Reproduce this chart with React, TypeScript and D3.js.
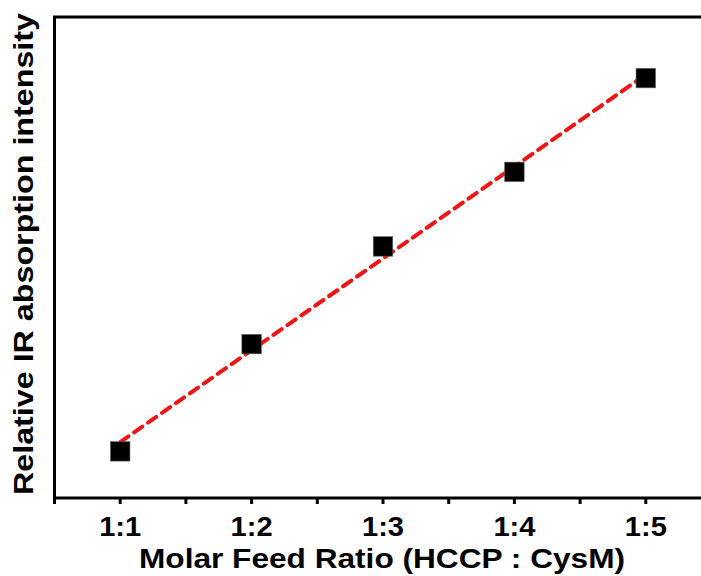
import React from "react";
import * as d3 from "d3";

const categories: string[] = ["1:1", "1:2", "1:3", "1:4", "1:5"];
const xValues: number[] = [1, 2, 3, 4, 5];
const intensity: number[] = [0.097, 0.32, 0.523, 0.678, 0.873];
const minorTicks: number[] = [0.5, 1.5, 2.5, 3.5, 4.5, 5.5];
const xTitle = "Molar Feed Ratio (HCCP : CysM)";
const yTitle = "Relative IR absorption intensity";

const W = 701;
const H = 576;

export default function App() {
  const x = d3.scaleLinear().domain([0.5, 5.5]).range([54.5, 711.5]);
  const y = d3.scaleLinear().domain([0, 1]).range([498, 17]);

  // linear regression fit
  const mx = d3.mean(xValues) as number;
  const my = d3.mean(intensity) as number;
  const sxy = d3.sum(xValues.map((v, i) => (v - mx) * (intensity[i] - my)));
  const sxx = d3.sum(xValues.map((v) => (v - mx) * (v - mx)));
  const slope = sxy / sxx;
  const icpt = my - slope * mx;
  const fitPts: [number, number][] = [1, 5].map((v) => [v, icpt + slope * v]);
  const line = d3
    .line<[number, number]>()
    .x((d) => x(d[0]))
    .y((d) => y(d[1]));

  const x0 = x(0.5);
  const x1 = x(5.5);
  const yb = y(0);
  const yt = y(1);
  const sq = 19.5;
  const font = "'Liberation Sans', Arial, sans-serif";

  return (
    <svg
      width={W}
      height={H}
      style={{ position: "absolute", left: 0, top: 0, background: "#fff" }}
      fontFamily={font}
      fontWeight="bold"
    >
      <rect x={0} y={0} width={W} height={H} fill="#fff" />
      {/* frame */}
      <rect x={x0} y={yt} width={x1 - x0} height={yb - yt} fill="none" stroke="#000" strokeWidth={3} />
      {/* ticks */}
      {minorTicks.map((t) => (
        <line key={"m" + t} x1={x(t)} x2={x(t)} y1={yb} y2={yb + 6} stroke="#000" strokeWidth={3} />
      ))}
      {xValues.map((t) => (
        <line key={"M" + t} x1={x(t)} x2={x(t)} y1={yb} y2={yb + 6} stroke="#000" strokeWidth={3} />
      ))}
      {/* tick labels */}
      {xValues.map((t, i) => (
        <text key={"l" + t} x={x(t)} y={536} textAnchor="middle" fontSize={28} fill="#000"
          textLength={42} lengthAdjust="spacingAndGlyphs">
          {categories[i]}
        </text>
      ))}
      {/* fit line */}
      <path d={line(fitPts) || ""} fill="none" stroke="#f01414" strokeWidth={4} strokeDasharray="10,7" strokeLinecap="round" />
      {/* points */}
      {xValues.map((t, i) => (
        <rect key={"p" + t} x={x(t) - sq / 2} y={y(intensity[i]) - sq / 2} width={sq} height={sq}
          fill="#000" stroke="#666" strokeWidth={0.6} />
      ))}
      {/* axis titles */}
      <text x={382} y={568} textAnchor="middle" fontSize={28} fill="#000"
        textLength={486} lengthAdjust="spacingAndGlyphs">
        {xTitle}
      </text>
      <text transform={`translate(33, 254) rotate(-90)`} textAnchor="middle" fontSize={28} fill="#000"
        textLength={482} lengthAdjust="spacingAndGlyphs">
        {yTitle}
      </text>
    </svg>
  );
}
